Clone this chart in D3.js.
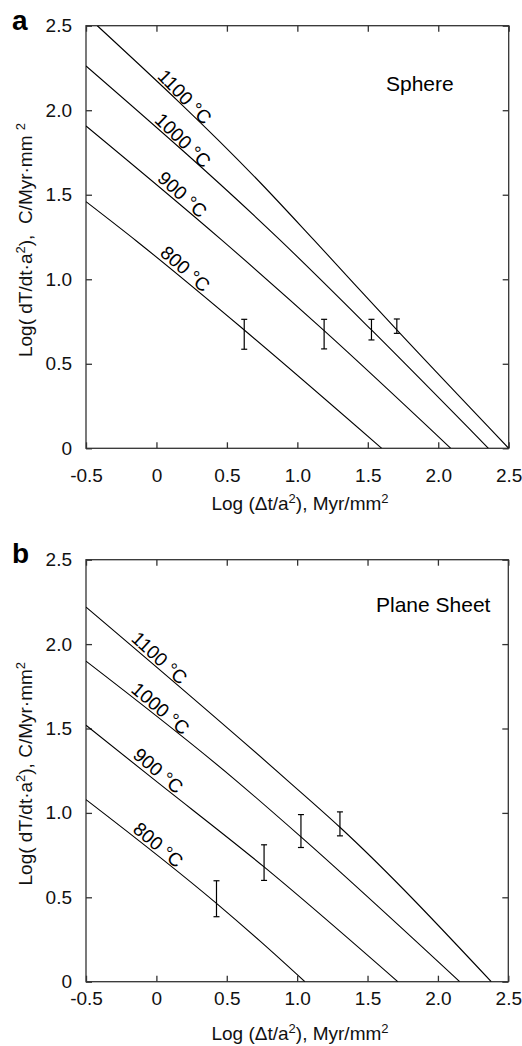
<!DOCTYPE html>
<html>
<head>
<meta charset="utf-8">
<script src="https://cdn.jsdelivr.net/npm/d3@7"></script>
<style>
  html, body { margin: 0; padding: 0; background: #fff; }
  svg { display: block; }
</style>
</head>
<body>
<svg id="chart" width="522" height="1046"></svg>
<script>
// ---- tick values and labels ----
const xTicks = [-0.5, 0, 0.5, 1.0, 1.5, 2.0, 2.5];
const xTickLabels = ["-0.5", "0", "0.5", "1.0", "1.5", "2.0", "2.5"];
const yTicks = [0, 0.5, 1.0, 1.5, 2.0, 2.5];
const yTickLabels = ["0", "0.5", "1.0", "1.5", "2.0", "2.5"];
const curveLabels = ["1100 °C", "1000 °C", "900 °C", "800 °C"];

// ---- sphere model curves: Log(Δt/a²) vs Log(dT/dt·a²) ----
const sphereX1100 = [-0.42, 0.741, 1.117, 1.706, 2.5];
const sphereY1100 = [2.5, 1.568, 1.233, 0.70, 0];
const sphereX1000 = [-0.5, 0.876, 1.526, 2.356];
const sphereY1000 = [2.262, 1.233, 0.70, 0];
const sphereX900 = [-0.5, 0.462, 1.19, 2.089];
const sphereY900 = [1.907, 1.233, 0.696, 0];
const sphereX800 = [-0.5, -0.14, 0.623, 1.599];
const sphereY800 = [1.459, 1.225, 0.70, 0];

// ---- plane sheet model curves ----
const sheetX1100 = [-0.5, 0.93, 1.304, 2.379];
const sheetY1100 = [2.219, 1.193, 0.915, 0];
const sheetX1000 = [-0.5, 0.564, 1.027, 2.155];
const sheetY1000 = [1.899, 1.193, 0.858, 0];
const sheetX900 = [-0.5, -0.02, 0.765, 1.715];
const sheetY900 = [1.519, 1.20, 0.68, 0];
const sheetX800 = [-0.5, 0.427, 0.741, 1.055];
const sheetY800 = [1.079, 0.464, 0.237, 0];

// ---- measured cooling rates with uncertainty ranges ----
const sphereBarX = [0.623, 1.190, 1.526, 1.706];
const sphereBarLow = [0.586, 0.588, 0.641, 0.680];
const sphereBarHigh = [0.763, 0.763, 0.763, 0.765];
const sheetBarX = [0.427, 0.765, 1.027, 1.304];
const sheetBarLow = [0.385, 0.600, 0.795, 0.864];
const sheetBarHigh = [0.598, 0.811, 0.990, 1.006];

// where each temperature label starts along its curve (x in data units)
const sphereLabelX = [-0.02, -0.04, -0.02, 0.0];
const sheetLabelX = [-0.205, -0.205, -0.193, -0.193];

const FONT = '"Liberation Sans", Arial, Helvetica, sans-serif';
const AXIS_COLOR = "#333";
const svg = d3.select("#chart");

function addRich(textSel, parts, supSize, supShift) {
  parts.forEach(p => {
    if (p.sup) {
      textSel.append("tspan").attr("dy", -supShift).attr("font-size", supSize).text(p.t);
    } else {
      const ts = textSel.append("tspan").text(p.t);
      if (p.after) ts.attr("dy", supShift);
    }
  });
}

function drawPanel(cfg) {
  const g = svg.append("g");
  const x = d3.scaleLinear().domain([-0.5, 2.5]).range([cfg.left, cfg.right]);
  const y = d3.scaleLinear().domain([0, 2.5]).range([cfg.bottom, cfg.top]);

  const clipId = "clip-" + cfg.key;
  svg.append("clipPath").attr("id", clipId)
    .append("rect")
    .attr("x", cfg.left).attr("y", cfg.top)
    .attr("width", cfg.right - cfg.left).attr("height", cfg.bottom - cfg.top);

  // axes with inward ticks on all four sides
  const tickLen = 6;
  const styleAxis = sel => {
    sel.select(".domain").remove();
    sel.selectAll(".tick line").attr("stroke", AXIS_COLOR).attr("stroke-width", 1.3);
    sel.selectAll("text").attr("font-size", 19).attr("font-family", FONT).attr("fill", "#111");
  };
  g.append("g").attr("transform", `translate(0,${cfg.bottom})`)
    .call(d3.axisBottom(x).tickValues(xTicks).tickFormat((d, i) => xTickLabels[i])
      .tickSizeInner(-tickLen).tickSizeOuter(0).tickPadding(cfg.xPad))
    .call(styleAxis);
  g.append("g").attr("transform", `translate(0,${cfg.top})`)
    .call(d3.axisTop(x).tickValues(xTicks).tickFormat("").tickSizeInner(-tickLen).tickSizeOuter(0))
    .call(styleAxis);
  g.append("g").attr("transform", `translate(${cfg.left},0)`)
    .call(d3.axisLeft(y).tickValues(yTicks).tickFormat((d, i) => yTickLabels[i])
      .tickSizeInner(-tickLen).tickSizeOuter(0).tickPadding(14))
    .call(styleAxis);
  g.append("g").attr("transform", `translate(${cfg.right},0)`)
    .call(d3.axisRight(y).tickValues(yTicks).tickFormat("").tickSizeInner(-tickLen).tickSizeOuter(0))
    .call(styleAxis);

  // frame
  g.append("rect")
    .attr("x", cfg.left).attr("y", cfg.top)
    .attr("width", cfg.right - cfg.left).attr("height", cfg.bottom - cfg.top)
    .attr("fill", "none").attr("stroke", AXIS_COLOR).attr("stroke-width", 1.3);

  // model curves
  const line = d3.line().x(d => x(d[0])).y(d => y(d[1])).curve(d3.curveMonotoneX);
  cfg.curves.forEach((c, i) => {
    const pts = c.xs.map((v, k) => [v, c.ys[k]]);
    g.append("path").attr("d", line(pts))
      .attr("fill", "none").attr("stroke", "#000").attr("stroke-width", 1.1)
      .attr("clip-path", `url(#${clipId})`);

    // temperature label, laid along the curve
    const lx = cfg.labelX[i];
    let j = 0;
    while (j < c.xs.length - 2 && lx > c.xs[j + 1]) j++;
    const t = (lx - c.xs[j]) / (c.xs[j + 1] - c.xs[j]);
    const ly = c.ys[j] + t * (c.ys[j + 1] - c.ys[j]);
    const ang = Math.atan2(y(c.ys[j + 1]) - y(c.ys[j]), x(c.xs[j + 1]) - x(c.xs[j])) * 180 / Math.PI;
    g.append("text")
      .attr("transform", `translate(${x(lx)},${y(ly)}) rotate(${ang + 2})`)
      .attr("dy", -4)
      .attr("font-family", FONT).attr("font-size", 19).attr("fill", "#000")
      .text(curveLabels[i]);
  });

  // error bars
  const cap = 3;
  const bars = g.append("g").attr("stroke", "#000").attr("stroke-width", 1.2);
  cfg.barX.forEach((bx, i) => {
    const px = x(bx), y0 = y(cfg.barLow[i]), y1 = y(cfg.barHigh[i]);
    bars.append("line").attr("x1", px).attr("x2", px).attr("y1", y0).attr("y2", y1);
    bars.append("line").attr("x1", px - cap).attr("x2", px + cap).attr("y1", y0).attr("y2", y0);
    bars.append("line").attr("x1", px - cap).attr("x2", px + cap).attr("y1", y1).attr("y2", y1);
  });

  // geometry name
  g.append("text").attr("x", cfg.nameX).attr("y", cfg.nameY)
    .attr("font-family", FONT).attr("font-size", 21).attr("fill", "#000")
    .text(cfg.name);

  // panel letter
  g.append("text").attr("x", 12).attr("y", cfg.letterY)
    .attr("font-family", FONT).attr("font-size", 28).attr("font-weight", "bold")
    .text(cfg.key);

  // x axis title
  const xt = g.append("text")
    .attr("x", cfg.xTitleX).attr("y", cfg.xTitleY)
    .attr("text-anchor", "middle")
    .attr("font-family", FONT).attr("font-size", 19).attr("fill", "#111")
    .style("white-space", "pre");
  addRich(xt, [{t: "Log (\u0394t/a"}, {t: "2", sup: true}, {t: "), Myr/mm", after: true}, {t: "2", sup: true}], 13, 7);

  // y axis title
  const yt = g.append("text")
    .attr("transform", `translate(32,${(cfg.top + cfg.bottom) / 2 + 3}) rotate(-90)`)
    .attr("text-anchor", "middle")
    .attr("font-family", FONT).attr("font-size", 19).attr("fill", "#111")
    .style("white-space", "pre");
  addRich(yt, [{t: "Log( dT/dt\u00B7a"}, {t: "2", sup: true}, {t: cfg.yUnit, after: true}, {t: "2", sup: true}], 13, 7);
}

drawPanel({
  key: "a", name: "Sphere", nameX: 386, nameY: 90.5,
  left: 86, right: 508.7, top: 25.7, bottom: 448.3,
  xPad: 20, xTitleX: 300, xTitleY: 510, letterY: 30,
  yUnit: "),  C/Myr\u00B7mm ",
  curves: [
    {xs: sphereX1100, ys: sphereY1100},
    {xs: sphereX1000, ys: sphereY1000},
    {xs: sphereX900, ys: sphereY900},
    {xs: sphereX800, ys: sphereY800}
  ],
  labelX: sphereLabelX,
  barX: sphereBarX, barLow: sphereBarLow, barHigh: sphereBarHigh
});

drawPanel({
  key: "b", name: "Plane Sheet", nameX: 376, nameY: 611.5,
  left: 86, right: 508.3, top: 559.7, bottom: 981.7,
  xPad: 10, xTitleX: 300, xTitleY: 1040, letterY: 563,
  yUnit: "), C/Myr\u00B7mm",
  curves: [
    {xs: sheetX1100, ys: sheetY1100},
    {xs: sheetX1000, ys: sheetY1000},
    {xs: sheetX900, ys: sheetY900},
    {xs: sheetX800, ys: sheetY800}
  ],
  labelX: sheetLabelX,
  barX: sheetBarX, barLow: sheetBarLow, barHigh: sheetBarHigh
});
</script>
</body>
</html>
